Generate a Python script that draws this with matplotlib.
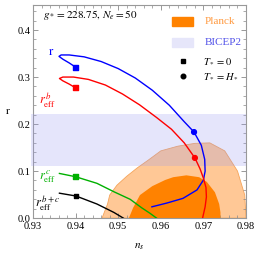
import numpy as np
import matplotlib
matplotlib.use("Agg")
import matplotlib.pyplot as plt
from matplotlib.patches import Rectangle
from matplotlib.ticker import MultipleLocator

plt.rcParams["font.family"] = ["Liberation Serif", "DejaVu Serif"]
plt.rcParams["mathtext.fontset"] = "stix"

# --- datos (ns, r) ---
planck_outer_ns = [0.9462, 0.9475, 0.9480, 0.9497, 0.9520, 0.9545, 0.9570, 0.9600,
                   0.9640, 0.9680, 0.9715, 0.9750, 0.9780, 0.9797, 0.9800]
planck_outer_r = [0.0, 0.030, 0.049, 0.070, 0.089, 0.107, 0.123, 0.143,
                  0.153, 0.159, 0.160, 0.143, 0.100, 0.049, 0.0]

planck_inner_ns = [0.9525, 0.9535, 0.9551, 0.9580, 0.9610, 0.9629, 0.9660, 0.9690,
                   0.9708, 0.9727, 0.9737, 0.9740, 0.9740]
planck_inner_r = [0.0, 0.022, 0.049, 0.068, 0.081, 0.087, 0.091, 0.087,
                  0.077, 0.055, 0.030, 0.012, 0.0]

r_ns = [0.9400, 0.9385, 0.9370, 0.9361, 0.9366, 0.9385, 0.9420, 0.9460, 0.9500,
        0.9540, 0.9580, 0.9620, 0.9655, 0.9678, 0.9695, 0.9703, 0.9704, 0.9700,
        0.9685, 0.9652, 0.9614, 0.9579]
r_r = [0.321, 0.330, 0.338, 0.344, 0.347, 0.347, 0.343, 0.333, 0.318,
       0.298, 0.272, 0.240, 0.205, 0.183, 0.155, 0.125, 0.100, 0.081,
       0.060, 0.042, 0.032, 0.024]

rb_ns = [0.9400, 0.9385, 0.9370, 0.9362, 0.9370, 0.9395, 0.9430, 0.9470, 0.9510,
         0.9550, 0.9590, 0.9625, 0.9655, 0.9680, 0.9692, 0.9700, 0.9706, 0.9707,
         0.9704, 0.9698]
rb_r = [0.277, 0.285, 0.292, 0.297, 0.300, 0.300, 0.295, 0.283, 0.264,
        0.241, 0.214, 0.189, 0.160, 0.128, 0.105, 0.085, 0.065, 0.045,
        0.024, 0.0]

rc_ns = [0.9362, 0.9400, 0.9450, 0.9490, 0.9528, 0.9555, 0.9575, 0.9590]
rc_r = [0.095, 0.088, 0.074, 0.056, 0.040, 0.022, 0.010, 0.0]

rbc_ns = [0.9362, 0.9401, 0.9450, 0.9490, 0.9512]
rbc_r = [0.053, 0.047, 0.030, 0.012, 0.0]

# marcadores: T_* = 0 (cuadrado) y T_* = H_* (punto)
sq_ns = [0.9400, 0.9400, 0.9400, 0.9401]
sq_r = [0.321, 0.277, 0.088, 0.047]
sq_col = ["#0000ff", "#ff0000", "#00b000", "#000000"]
dot_ns = [0.9678, 0.9680]
dot_r = [0.183, 0.128]
dot_col = ["#0000ff", "#ff0000"]

bicep_lo, bicep_hi = 0.11, 0.222

fig = plt.figure(figsize=(2.56, 2.56), dpi=100)
ax = fig.add_axes([0.129, 0.148, 0.832, 0.832])

ax.fill(planck_outer_ns, planck_outer_r, color="#ffc896", ec="#f5a45a", lw=0.6, zorder=1)
ax.fill(planck_inner_ns, planck_inner_r, color="#ff8200", lw=0, zorder=2)
ax.axhspan(bicep_lo, bicep_hi, xmin=-0.01, xmax=1, color="#9a9af0", alpha=0.25,
           lw=0, zorder=3, clip_on=False)

ax.plot(r_ns, r_r, color="#0000ff", lw=1.0, zorder=5)
ax.plot(rb_ns, rb_r, color="#ff0000", lw=1.0, zorder=5)
ax.plot(rc_ns, rc_r, color="#00b000", lw=1.0, zorder=5)
ax.plot(rbc_ns, rbc_r, color="#000000", lw=1.0, zorder=5)
ax.scatter(sq_ns, sq_r, marker="s", s=12, c=sq_col, zorder=6)
ax.scatter(dot_ns, dot_r, marker="o", s=12, c=dot_col, zorder=6)

ax.text(0.9342, 0.353, r"$\mathrm{r}$", color="#0000ff", fontsize=9, ha="center", va="center")
ax.text(0.9333, 0.251, r"$r_{\mathrm{eff}}^{\,b}$", color="#ff0000", fontsize=9, ha="center", va="center")
ax.text(0.9333, 0.089, r"$r_{\mathrm{eff}}^{\,c}$", color="#00b000", fontsize=9, ha="center", va="center")
ax.text(0.9335, 0.032, r"$r_{\mathrm{eff}}^{\,b+c}$", color="#000000", fontsize=9, ha="center", va="center")

ax.text(0.047, 0.953, r"$g_* = 228.75,\,N_e = 50$", transform=ax.transAxes,
        fontsize=8, ha="left", va="center")

# leyenda manual
ax.add_patch(Rectangle((0.653, 0.901), 0.098, 0.043, transform=ax.transAxes,
                       color="#ff8200", zorder=7))
ax.text(0.808, 0.925, "Planck", color="#ff9a40", fontsize=8, transform=ax.transAxes,
        ha="left", va="center")
ax.add_patch(Rectangle((0.653, 0.803), 0.098, 0.042, transform=ax.transAxes,
                       color="#e6e6fa", zorder=7))
ax.text(0.808, 0.826, "BICEP2", color="#5050e8", fontsize=8, transform=ax.transAxes,
        ha="left", va="center")
ax.plot([0.704], [0.737], marker="s", ms=3.3, color="black", transform=ax.transAxes)
ax.text(0.80, 0.737, r"$T_* = 0$", fontsize=7.5, transform=ax.transAxes, ha="left", va="center")
ax.plot([0.704], [0.667], marker="o", ms=3.3, color="black", transform=ax.transAxes)
ax.text(0.80, 0.667, r"$T_* = H_*$", fontsize=7.5, transform=ax.transAxes, ha="left", va="center")

ax.set_xlim(0.93, 0.98)
ax.set_ylim(0.0, 0.453)
ax.xaxis.set_major_locator(MultipleLocator(0.01))
ax.xaxis.set_minor_locator(MultipleLocator(0.002))
ax.yaxis.set_major_locator(MultipleLocator(0.1))
ax.yaxis.set_minor_locator(MultipleLocator(0.02))
ax.xaxis.set_major_formatter(plt.FuncFormatter(lambda v, p: f"{v:.2f}"))
ax.yaxis.set_major_formatter(plt.FuncFormatter(lambda v, p: f"{v:.1f}"))
ax.tick_params(which="both", direction="in", top=True, right=True, color="#888888",
               labelsize=7.5)
ax.tick_params(axis="x", pad=3)
ax.tick_params(axis="y", pad=2)
ax.tick_params(which="major", length=3.5, width=0.6)
ax.tick_params(which="minor", length=2, width=0.5)
for s in ax.spines.values():
    s.set_color("#999999")
    s.set_linewidth(0.8)

ax.set_xlabel(r"$n_s$", fontsize=8, labelpad=7)
ax.set_ylabel(r"$\mathrm{r}$", fontsize=8, rotation=0, labelpad=12)
ax.yaxis.set_label_coords(-0.12, 0.48)

fig.savefig("out.png", dpi=100)
